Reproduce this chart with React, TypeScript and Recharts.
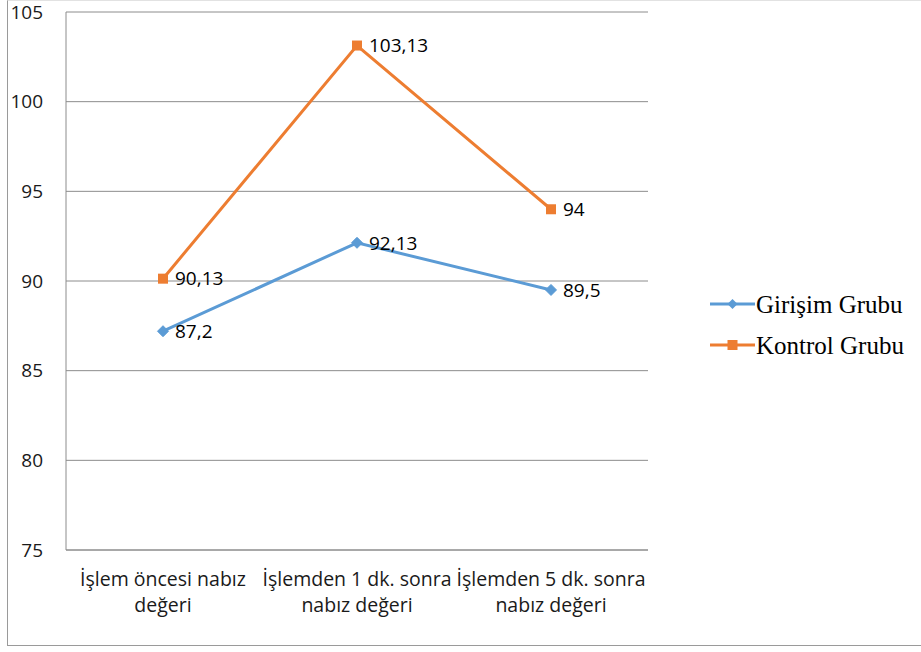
import React from "react";
import { LineChart, Line, XAxis, YAxis, CartesianGrid, LabelList } from "recharts";

const categories = [
  "İşlem öncesi nabız\ndeğeri",
  "İşlemden 1 dk. sonra\nnabız değeri",
  "İşlemden 5 dk. sonra\nnabız değeri",
];
const girisimGrubu = [87.2, 92.13, 89.5];
const kontrolGrubu = [90.13, 103.13, 94];
const yTicks = [75, 80, 85, 90, 95, 100, 105];
const seriesNames = ["Girişim Grubu", "Kontrol Grubu"];

const BLUE = "#5B9BD5";
const ORANGE = "#ED7D31";
const GRID = "#8c8c8c";
const FONT = "'Open Sans', 'Noto Sans', sans-serif";

const data = categories.map((c, i) => ({
  name: c,
  girisim: girisimGrubu[i],
  kontrol: kontrolGrubu[i],
}));

const fmt = (v: any) => String(v).replace(".", ",");

const Diamond = (props: any) => {
  const { cx, cy } = props;
  if (cx == null || cy == null) return null;
  const s = 5.5;
  return (
    <path
      d={`M${cx},${cy - s} L${cx + s},${cy} L${cx},${cy + s} L${cx - s},${cy} Z`}
      fill={BLUE}
      stroke={BLUE}
    />
  );
};

const Square = (props: any) => {
  const { cx, cy } = props;
  if (cx == null || cy == null) return null;
  const s = 5;
  return <rect x={cx - s} y={cy - s} width={2 * s} height={2 * s} fill={ORANGE} />;
};

const XTick = (props: any) => {
  const { x, y, payload } = props;
  const lines = String(payload.value).split("\n");
  return (
    <text x={x} y={y} textAnchor="middle" fill="#1a1a1a" fontFamily={FONT} fontSize={19.5}>
      {lines.map((l, i) => (
        <tspan key={i} x={x} dy={i === 0 ? 36 : 26}>
          {l}
        </tspan>
      ))}
    </text>
  );
};

const LegendBox = () => {
  const items = [
    { label: seriesNames[0], color: BLUE, shape: "diamond" },
    { label: seriesNames[1], color: ORANGE, shape: "square" },
  ];
  return (
    <svg width={220} height={100} style={{ position: "absolute", left: 708, top: 285 }}>
      {items.map((it, i) => {
        const cy = 19 + i * 41;
        return (
          <g key={i}>
            <line x1={2} x2={47} y1={cy} y2={cy} stroke={it.color} strokeWidth={3} />
            {it.shape === "diamond" ? (
              <path d={`M24.5,${cy - 5} L29.5,${cy} L24.5,${cy + 5} L19.5,${cy} Z`} fill={it.color} />
            ) : (
              <rect x={19.5} y={cy - 5} width={10} height={10} fill={it.color} />
            )}
            <text
              x={48}
              y={cy}
              dy="0.35em"
              fontFamily="'Liberation Serif', 'Times New Roman', serif"
              fontSize={25}
              fill="#000"
            >
              {it.label}
            </text>
          </g>
        );
      })}
    </svg>
  );
};

export default function App() {
  return (
    <div style={{ position: "absolute", left: 0, top: 0, width: 921, height: 652, background: "#fff", overflow: "hidden" }}>
      <div
        style={{
          position: "absolute",
          left: 7,
          top: 0,
          width: 960,
          height: 646,
          boxSizing: "border-box",
          borderLeft: "1px solid #9a9a9a",
          borderBottom: "1px solid #9a9a9a",
          borderTop: "1px solid #e2e2e2",
        }}
      />
      <div style={{ position: "absolute", left: 0, top: 0 }}>
        <LineChart width={921} height={652} data={data} margin={{ top: 12, right: 273, bottom: 0, left: 0 }}>
          <CartesianGrid vertical={false} stroke={GRID} strokeWidth={1} />
          <XAxis
            dataKey="name"
            scale="band"
            interval={0}
            tickLine={false}
            axisLine={{ stroke: GRID }}
            tickSize={0}
            tickMargin={0}
            tick={<XTick />}
            height={102}
          />
          <YAxis
            domain={[75, 105]}
            ticks={yTicks}
            interval={0}
            tickLine={false}
            axisLine={{ stroke: GRID }}
            tickSize={0}
            tickMargin={23}
            width={66}
            tick={{ fontFamily: FONT, fontSize: 19, fill: "#1a1a1a" }}
          />
          <Line
            type="linear"
            dataKey="girisim"
            name={seriesNames[0]}
            stroke={BLUE}
            strokeWidth={3}
            dot={<Diamond />}
            activeDot={false}
            isAnimationActive={false}
          >
            <LabelList
              dataKey="girisim"
              position="right"
              offset={12}
              formatter={fmt}
              style={{ fontFamily: FONT, fontSize: 19, fill: "#000" }}
            />
          </Line>
          <Line
            type="linear"
            dataKey="kontrol"
            name={seriesNames[1]}
            stroke={ORANGE}
            strokeWidth={3}
            dot={<Square />}
            activeDot={false}
            isAnimationActive={false}
          >
            <LabelList
              dataKey="kontrol"
              position="right"
              offset={12}
              formatter={fmt}
              style={{ fontFamily: FONT, fontSize: 19, fill: "#000" }}
            />
          </Line>
        </LineChart>
      </div>
      <LegendBox />
    </div>
  );
}
